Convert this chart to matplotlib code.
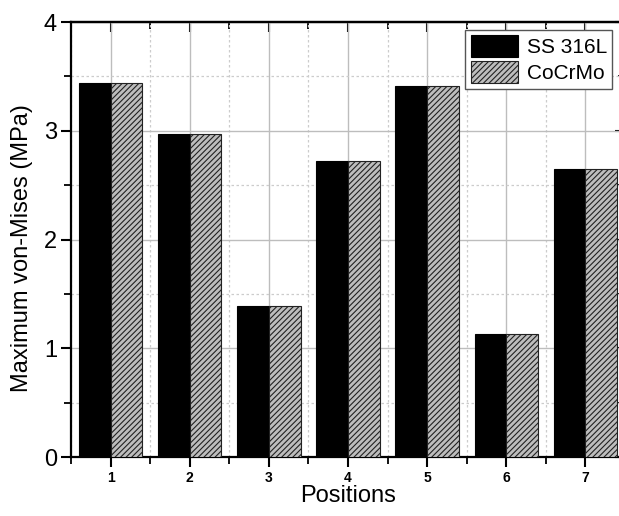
import numpy as np
import matplotlib
matplotlib.use('Agg')
import matplotlib.pyplot as plt
from matplotlib.ticker import MultipleLocator

plt.rcParams['font.family'] = ['Liberation Sans', 'DejaVu Sans']
plt.rcParams['hatch.color'] = '#333333'
plt.rcParams['hatch.linewidth'] = 0.8

# data
positions = [1, 2, 3, 4, 5, 6, 7]
ss316l = [3.44, 2.97, 1.39, 2.72, 3.41, 1.13, 2.65]
cocrmo = [3.44, 2.97, 1.39, 2.72, 3.41, 1.13, 2.65]
labels = ['SS 316L', 'CoCrMo']

fig = plt.figure(figsize=(6.19, 5.16), dpi=100)
ax = fig.add_axes([0.1147, 0.1143, 0.895, 0.843])

x = np.array(positions)
w = 0.4
ax.bar(x - w / 2, ss316l, width=w, color='black', edgecolor='black', linewidth=0.8,
       label=labels[0], zorder=3)
ax.bar(x + w / 2, cocrmo, width=w, color='#bdbdbd', edgecolor='#222222', linewidth=0.8,
       hatch='//////', label=labels[1], zorder=3)

ax.set_xlim(0.5, 7.5)
ax.set_ylim(0, 4)
ax.xaxis.set_major_locator(MultipleLocator(1))
ax.xaxis.set_minor_locator(MultipleLocator(0.5))
ax.yaxis.set_major_locator(MultipleLocator(1))
ax.yaxis.set_minor_locator(MultipleLocator(0.5))

ax.grid(which='major', color='#bdbdbd', linewidth=1.0, linestyle='-', zorder=0)
ax.grid(which='minor', color='#cccccc', linewidth=0.9, linestyle=(0, (2, 2)), zorder=0)
ax.set_axisbelow(True)

for s in ax.spines.values():
    s.set_linewidth(1.6)

ax.tick_params(which='major', direction='out', length=7, width=1.5, top=False, right=False)
ax.tick_params(which='minor', direction='out', length=5, width=1.3, top=False, right=False)
ax.tick_params(axis='x', which='major', labelsize=10, pad=3)
ax.tick_params(axis='y', which='major', labelsize=17, pad=3)
for t in ax.get_xticklabels():
    t.set_fontweight('bold')

# inward ticks on top / right, like the original
ax2 = ax.secondary_xaxis('top')
ax2.xaxis.set_major_locator(MultipleLocator(1))
ax2.xaxis.set_minor_locator(MultipleLocator(0.5))
ax2.tick_params(which='major', direction='in', length=7, width=1.5, labeltop=False)
ax2.tick_params(which='minor', direction='in', length=5, width=1.3)
ax2.spines['top'].set_linewidth(1.6)
ay2 = ax.secondary_yaxis('right')
ay2.yaxis.set_major_locator(MultipleLocator(1))
ay2.yaxis.set_minor_locator(MultipleLocator(0.5))
ay2.tick_params(which='major', direction='in', length=7, width=1.5, labelright=False)
ay2.tick_params(which='minor', direction='in', length=5, width=1.3)

ax.set_xlabel('Positions', fontsize=17, va='center')
ax.xaxis.set_label_coords(0.5, -0.09)
ax.set_ylabel('Maximum von-Mises (MPa)', fontsize=17, va='center')
ax.yaxis.set_label_coords(-0.088, 0.48)

leg = ax.legend(loc='upper right', bbox_to_anchor=(0.977, 0.982), fontsize=15,
                fancybox=False, framealpha=1, edgecolor='#555555',
                handlelength=2.3, handleheight=1.25, borderpad=0.25,
                labelspacing=0.2, handletextpad=0.4, borderaxespad=0)
leg.get_frame().set_linewidth(1.0)

fig.savefig('out.png', dpi=100)
